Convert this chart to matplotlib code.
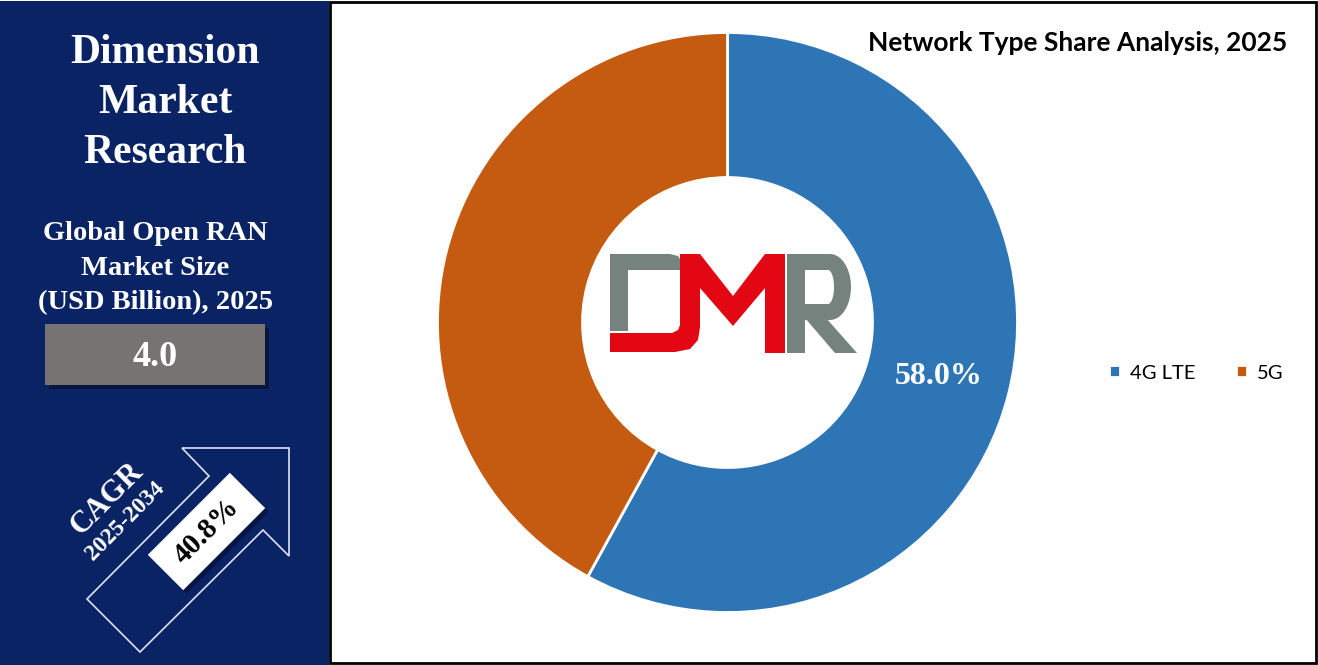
import numpy as np
import matplotlib
matplotlib.use('Agg')
import matplotlib.pyplot as plt
from matplotlib.patches import Rectangle, Polygon

####################
# DATA
####################
segments = ['4G LTE', '5G']
shares = [58.0, 42.0]
seg_colors = ['#2E75B6', '#C55A11']
chart_title = 'Network Type Share Analysis, 2025'

brand_lines = ['Dimension', 'Market', 'Research']
size_lines = ['Global Open RAN', 'Market Size', '(USD Billion), 2025']
market_size = '4.0'
cagr_label = 'CAGR'
cagr_period = '2025-2034'
cagr_value = '40.8%'

####################
# FIGURE
####################
W, H = 1318, 665
navy = '#0A2364'
serif = 'Liberation Serif'
sans = 'Lato'

fig = plt.figure(figsize=(W / 100, H / 100), dpi=100)
fig.patch.set_facecolor('white')

# donut axes (pixel placement: centre 727.5, 322.5 ; radius 290)
cx, cy, r = 727.5, 322.5, 290
ax_pie = fig.add_axes([(cx - r) / W, (H - cy - r) / H, 2 * r / W, 2 * r / H])
ax_pie.set_zorder(1)
wedges, _ = ax_pie.pie(shares, colors=seg_colors, startangle=90,
                       counterclock=False, radius=1,
                       wedgeprops=dict(width=0.5, edgecolor='white', linewidth=2))
ax_pie.set_xlim(-1, 1)
ax_pie.set_ylim(-1, 1)
ax_pie.set_aspect('equal')

# percentage label on the big segment
mid = np.deg2rad(90 - shares[0] / sum(shares) * 360 / 2)
ax_pie.text(0.75 * np.cos(mid), 0.75 * np.sin(mid), '%.1f%%' % shares[0],
            ha='center', va='center', color='white', fontsize=23,
            fontweight='bold', family=serif)

# overlay axes in pixel coordinates (panel, texts, logo)
ax = fig.add_axes([0, 0, 1, 1])
ax.set_zorder(2)
ax.patch.set_visible(False)
ax.set_xlim(0, W)
ax.set_ylim(H, 0)
ax.axis('off')

# left navy panel and right frame
ax.add_patch(Rectangle((0, 1), 329, H - 1, facecolor=navy, edgecolor='none'))
ax.add_patch(Rectangle((329.5, 1.5), 986.5, 661.5, facecolor='none',
                       edgecolor='black', linewidth=2))

for i, line in enumerate(brand_lines):
    ax.text(165, 53 + 50 * i, line, ha='center', va='center', color='white',
            fontsize=30, fontweight='bold', family=serif)
for i, line in enumerate(size_lines):
    ax.text(155, 234 + 34.5 * i, line, ha='center', va='center', color='white',
            fontsize=20.5, fontweight='bold', family=serif)

# grey value box with shadow
ax.add_patch(Rectangle((49, 328), 220, 61, facecolor='#061640', edgecolor='none'))
ax.add_patch(Rectangle((45, 324), 220, 61, facecolor='#777373', edgecolor='none'))
ax.text(155, 357, market_size, ha='center', va='center', color='white',
        fontsize=26, fontweight='bold', family=serif)

# CAGR arrow outline
arrow = [(182, 448), (289, 448), (289, 556), (263, 530), (140, 652),
         (87, 599), (209, 476)]
ax.add_patch(Polygon(arrow, closed=True, facecolor='none', edgecolor='#DCE3F0',
                     linewidth=1.2))


def rot_box(xc, yc, w, h, ang):
    t = np.deg2rad(ang)
    u = np.array([np.cos(t), -np.sin(t)])
    v = np.array([np.sin(t), np.cos(t)])
    c = np.array([xc, yc])
    return [c - u * w / 2 - v * h / 2, c + u * w / 2 - v * h / 2,
            c + u * w / 2 + v * h / 2, c - u * w / 2 + v * h / 2]


ax.add_patch(Polygon(rot_box(210, 535, 116, 50, 45), closed=True,
                     facecolor='#061640', edgecolor='none'))
ax.add_patch(Polygon(rot_box(206.5, 531.5, 116, 50, 45), closed=True,
                     facecolor='white', edgecolor='none'))
ax.text(206.5, 531.5, cagr_value, ha='center', va='center', rotation=45,
        rotation_mode='anchor', color='black', fontsize=21, fontweight='bold',
        family=serif)
ax.text(107, 499, cagr_label, ha='center', va='center', rotation=45,
        rotation_mode='anchor', color='white', fontsize=22, fontweight='bold',
        family=serif)
ax.text(125, 521, cagr_period, ha='center', va='center', rotation=45,
        rotation_mode='anchor', color='white', fontsize=17, fontweight='bold',
        family=serif)

# title
ax.text(1287, 43, chart_title, ha='right', va='center', color='black',
        fontsize=19, fontweight='bold', family=sans)

# DMR logo
grey = '#76827E'
red = '#E30613'
ax.add_patch(Polygon([(610, 254), (670, 254), (678, 256), (682, 262),
                      (682, 270), (628, 270), (628, 331), (610, 331)],
                     closed=True, facecolor=grey, edgecolor='none'))
red_shape = [(680, 254), (700, 254), (733, 296), (765, 254), (785, 254),
             (785, 353), (765, 353), (765, 288), (733, 326), (700, 288),
             (700, 327), (698, 340), (690, 349), (675, 352), (610, 352),
             (610, 333), (672, 333), (678, 330), (680, 325)]
ax.add_patch(Polygon(red_shape, closed=True, facecolor=red, edgecolor='none'))
th = np.linspace(np.pi / 2, -np.pi / 2, 30)
outer = [(787, 254)] + [(830 + 21 * np.cos(a), 287 - 33 * np.sin(a)) for a in th] + [(787, 320)]
ax.add_patch(Polygon(outer, closed=True, facecolor=grey, edgecolor='none'))
inner = [(805, 270)] + [(828 + 6 * np.cos(a), 287 - 17 * np.sin(a)) for a in th] + [(805, 304)]
ax.add_patch(Polygon(inner, closed=True, facecolor='white', edgecolor='none'))
ax.add_patch(Rectangle((787, 254), 18, 99, facecolor=grey, edgecolor='none'))
ax.add_patch(Polygon([(805, 318), (826, 318), (857, 353), (835, 353)],
                     closed=True, facecolor=grey, edgecolor='none'))

# legend
fig.legend(wedges, segments, loc='center', ncol=2, frameon=False,
           bbox_to_anchor=(1196 / W, 1 - 373 / H),
           prop=dict(family=sans, size=14.5), handlelength=0.55,
           handleheight=0.55, handletextpad=0.5, columnspacing=2.0)

fig.savefig('out.png', dpi=100)
